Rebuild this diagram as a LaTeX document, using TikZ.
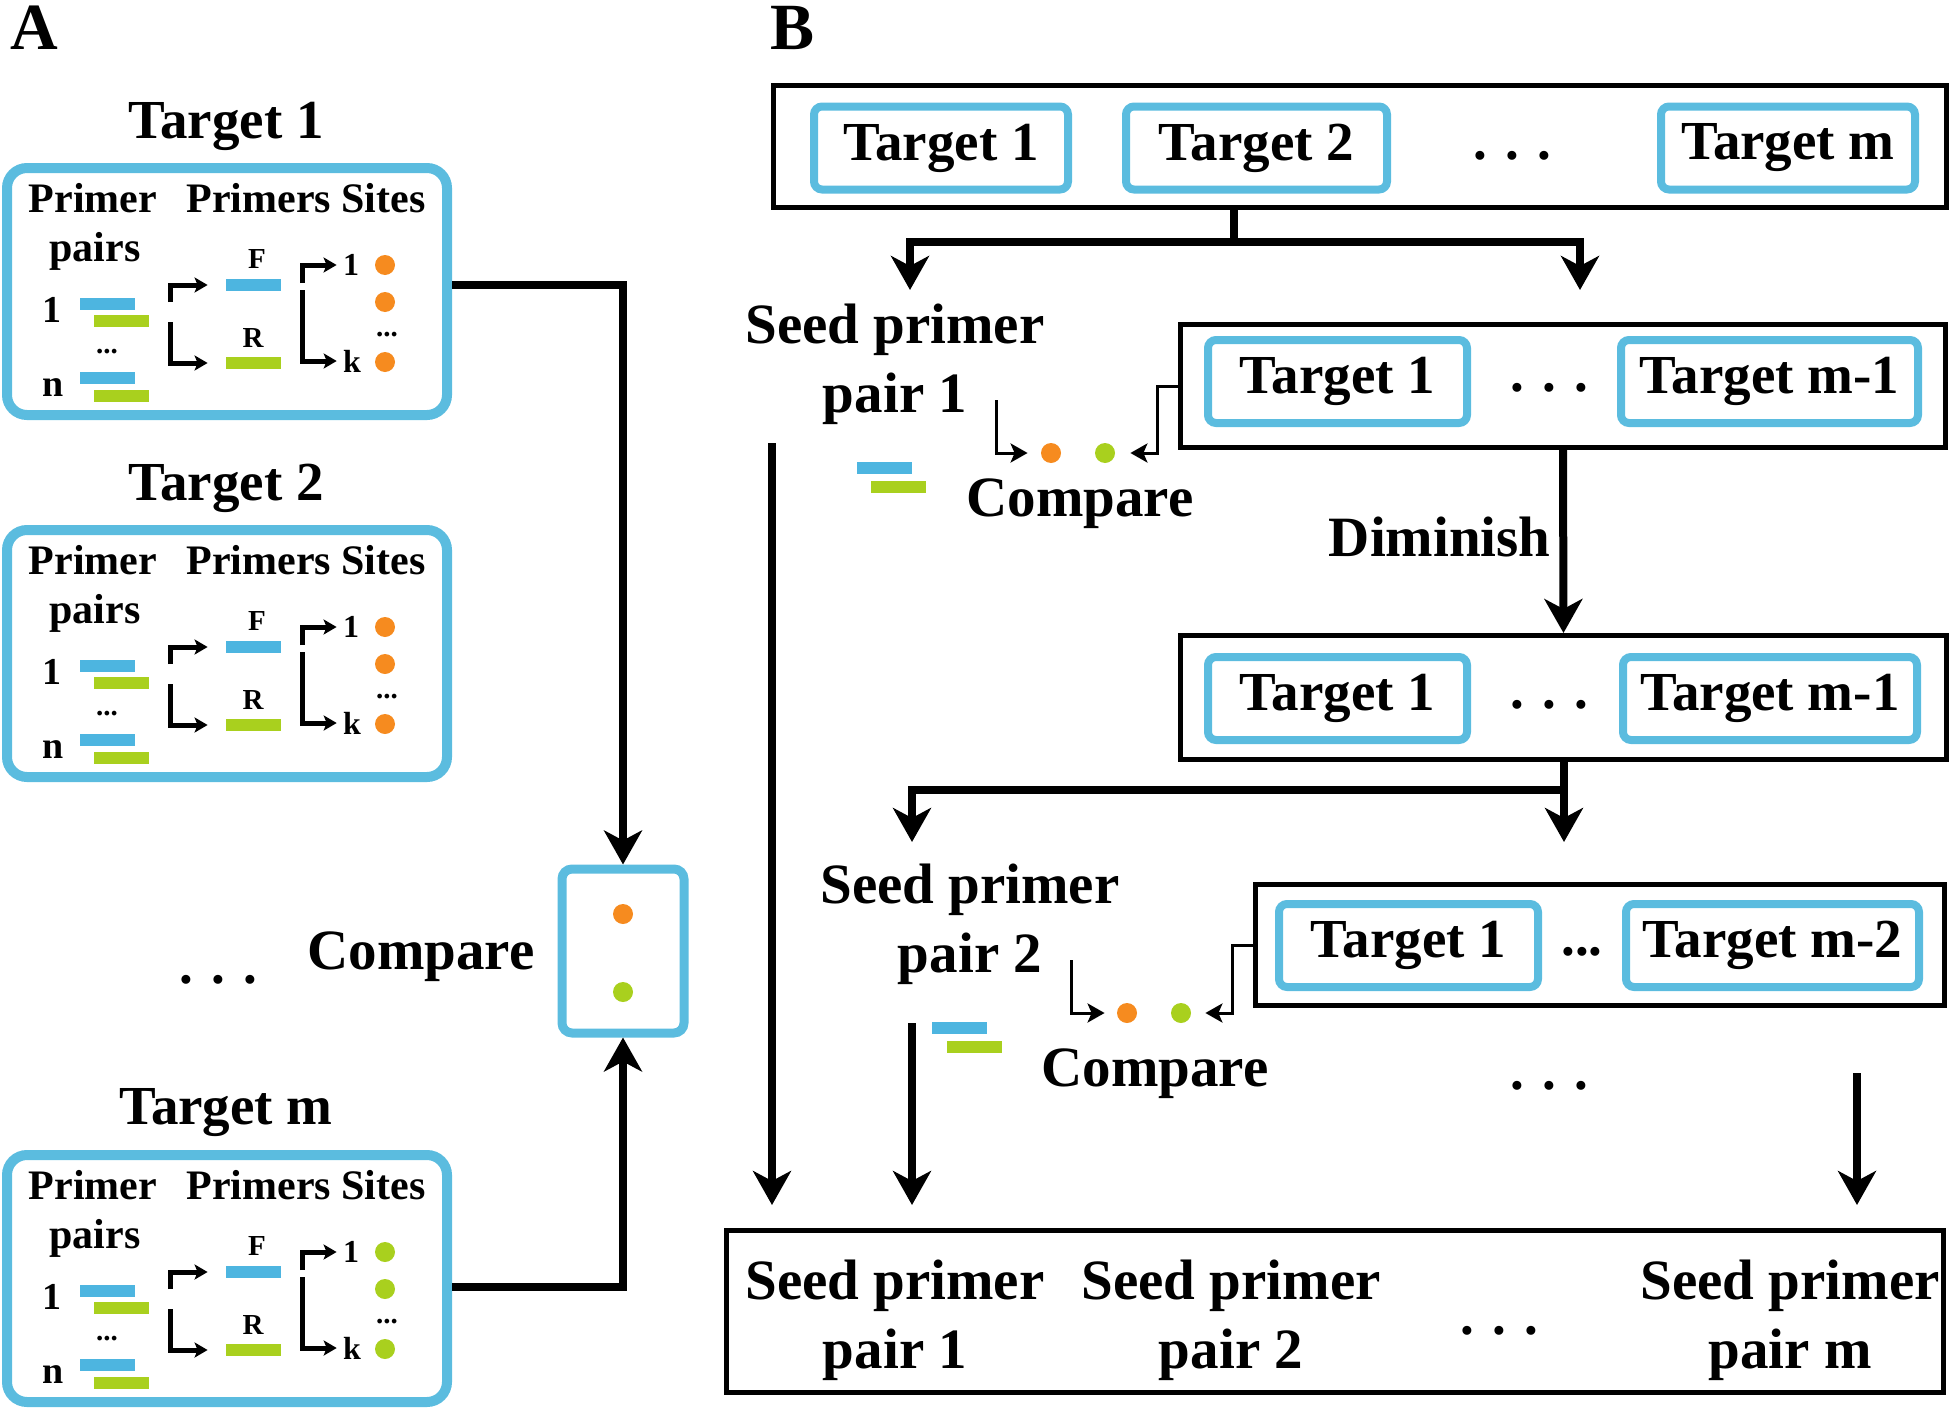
\documentclass[tikz,border=0pt]{standalone}
\usepackage{fontspec}
\setmainfont{Liberation Serif}
\usepackage{xcolor}
\usepackage{tikz}
\usetikzlibrary{positioning,arrows.meta}

\definecolor{tgtblue}{HTML}{5BBCDF}
\definecolor{barblue}{HTML}{4DB5E0}
\definecolor{bargreen}{HTML}{A9D01E}
\definecolor{dotorange}{HTML}{F68B1F}
\definecolor{dotgreen}{HTML}{A9D01E}

\newcommand{\flabel}{\bfseries\fontsize{33}{38}\selectfont}
\newcommand{\fbig}{\bfseries\fontsize{28.5}{34.5}\selectfont}
\newcommand{\ftgt}{\bfseries\fontsize{27.5}{33}\selectfont}
\newcommand{\fhead}{\bfseries\fontsize{21}{25}\selectfont}
\newcommand{\fidx}{\bfseries\fontsize{19}{22}\selectfont}
\newcommand{\fsite}{\bfseries\fontsize{16}{19}\selectfont}
\newcommand{\fsmall}{\bfseries\fontsize{14.5}{17}\selectfont}

\tikzset{
    targetA/.style={draw=tgtblue, line width=5pt, rounded corners=10pt,
        minimum width=220pt, minimum height=123.5pt, inner sep=0pt},
    tgtbox/.style={draw=tgtblue, line width=4pt, rounded corners=4pt,
        minimum height=41.5pt, inner sep=0pt, font=\ftgt},
    outerbox/.style={draw, line width=2.5pt, inner sep=0pt},
    bar/.style={rectangle, inner sep=0pt, minimum width=27.5pt, minimum height=6pt},
    dot/.style={circle, inner sep=0pt, minimum size=10pt},
    conn/.style={line width=4pt, -{Stealth[length=17pt,width=19pt,inset=5pt]}},
    plainline/.style={line width=4pt},
    brk/.style={line width=2.5pt, -{Stealth[length=6.5pt,width=7.5pt,inset=1.5pt]}},
    cmparrow/.style={line width=1.5pt, -{Stealth[length=8.5pt,width=9.5pt,inset=2pt]}},
}

\begin{document}
\begin{tikzpicture}[x=0.5pt, y=-0.5pt]

    \useasboundingbox (0,0) rectangle (1951,1408);

    \node[font=\flabel] (labA) at (34,28) {A};
    \node[font=\flabel] (labB) at (793,28) {B};

    \foreach \i/\dy/\dc in {1/0/dotorange, 2/362/dotorange, m/987/dotgreen} {
        \begin{scope}[shift={(0,\dy)}]
            \node[font=\ftgt] (title\i) at (226,126) {Target \i};
            \node[targetA] (box\i) at (227,291.5) {};
            \node[font=\fhead, anchor=base] (hp\i) at (93,212) {Primer};
            \node[font=\fhead, anchor=base] (hs\i) at (306,212) {Primers Sites};
            \node[font=\fhead, anchor=base] (hq\i) at (95,261) {pairs};
            \node[font=\fidx, anchor=base] (one\i) at (52,322) {1};
            \node[font=\fidx, anchor=base] (en\i) at (53,396) {n};
            \node[font=\fsmall, anchor=base] (vd\i) at (107,353) {...};
            \node[bar, fill=barblue] (pb\i) at (107.5,303.5) {};
            \node[bar, fill=bargreen] (pg\i) at (121,321) {};
            \node[bar, fill=barblue] (nb\i) at (107.5,377.5) {};
            \node[bar, fill=bargreen] (ng\i) at (121,395.5) {};
            \node[bar, fill=barblue] (fb\i) at (253.5,285) {};
            \node[bar, fill=bargreen] (rb\i) at (253.5,363) {};
            \node[font=\fsmall, anchor=base] (fl\i) at (257,268) {F};
            \node[font=\fsmall, anchor=base] (rl\i) at (253,347) {R};
            \draw[brk] (170,302) |- ([xshift=-9pt]fb\i.west);
            \draw[brk] (170,322) |- ([xshift=-9pt]rb\i.west);
            \node[font=\fsite, inner sep=1pt] (s1\i) at (351,265) {1};
            \node[font=\fsite, inner sep=1pt] (sk\i) at (352,361) {k};
            \draw[brk] (302,283) |- ([xshift=-2pt]s1\i.west);
            \draw[brk] (302,290) |- ([xshift=-2pt]sk\i.west);
            \node[dot, fill=\dc] (da\i) at (385,265) {};
            \node[dot, fill=\dc] (db\i) at (385,302) {};
            \node[dot, fill=\dc] (dk\i) at (385,362) {};
            \node[font=\fsmall, anchor=base] (sd\i) at (387,336) {...};
        \end{scope}
    }

    \node[draw=tgtblue,
        line width=4.5pt,
        rounded corners=5pt,
        minimum width=61pt,
        minimum height=82pt]
        (cmpA) at (623,951) {};
    \node[dot, fill=dotorange] (cmpAo) at (623,914) {};
    \node[dot, fill=dotgreen] (cmpAg) at (623,992) {};
    \node[font=\fbig] (cmpAlbl) at (421,957) {Compare};
    \node[font=\ftgt] (adots) at (218,980) {. . .};

    \draw[conn] ([yshift=3.5pt]box1.east) -| (cmpA.north);
    \draw[conn] ([yshift=-4.25pt]boxm.east) -| (cmpA.south);

    \node[outerbox,
        minimum width=586.5pt,
        minimum height=61pt]
        (tops) at (1360,146.5) {};
    \node[tgtbox, minimum width=127pt] (t1) at (941,148) {Target 1};
    \node[tgtbox, minimum width=130.5pt] (t2) at (1256.5,148) {Target 2};
    \node[tgtbox, minimum width=127pt] (tm) at (1788,148) {Target m};
    \node[font=\ftgt] (tdots) at (1512,156) {. . .};

    \coordinate (split1) at (1234,242);
    \coordinate (s1l) at (910,290);
    \coordinate (s1r) at (1580,290);
    \draw[plainline] (split1 |- tops.south) -- (split1);
    \draw[conn] (split1) -| (s1l);
    \draw[conn] (split1) -| (s1r);

    \node[font=\fbig, align=center] (seed1) at (895,364.5) {Seed primer\\pair 1};

    \node[outerbox,
        minimum width=382.5pt,
        minimum height=61.5pt]
        (dim1) at (1563,386) {};
    \node[tgtbox, minimum width=129.5pt] (d1t1) at (1337.5,381.5) {Target 1};
    \node[tgtbox, minimum width=148.5pt] (d1tm) at (1769.5,381.5) {Target m-1};
    \node[font=\ftgt] (d1dots) at (1549,388) {. . .};

    \node[dot, fill=dotorange] (c1o) at (1051,453) {};
    \node[dot, fill=dotgreen] (c1g) at (1105,453) {};
    \draw[cmparrow] (996,400) |- ([xshift=-6.5pt]c1o.west);
    \draw[cmparrow] (dim1.west) -- ++(-21,0) |- ([xshift=7.5pt]c1g.east);
    \node[bar, fill=barblue] (c1b) at (884.5,468) {};
    \node[bar, fill=bargreen] (c1gr) at (898.5,487) {};
    \node[font=\fbig] (cmp1) at (1080,504) {Compare};

    \node[outerbox,
        minimum width=383pt,
        minimum height=62pt]
        (dim2) at (1563.5,697.5) {};
    \node[tgtbox, minimum width=129.5pt] (d2t1) at (1337.5,698.5) {Target 1};
    \node[tgtbox, minimum width=147pt] (d2tm) at (1770,698.5) {Target m-1};
    \node[font=\ftgt] (d2dots) at (1549,705) {. . .};

    \draw[conn] (dim1.south) -- (dim2.north)
        node[midway, left=1pt, yshift=2.5pt, font=\fbig] (dimlbl) {Diminish};

    \coordinate (split2) at (1564,790);
    \coordinate (s2l) at (912,842);
    \coordinate (s2r) at (1564,842);
    \draw[conn] (dim2.south -| s2r) -- (s2r);
    \draw[conn] (split2) -| (s2l);

    \node[font=\fbig, align=center] (seed2) at (970,924.5) {Seed primer\\pair 2};

    \node[outerbox,
        minimum width=344.5pt,
        minimum height=60.5pt]
        (dim3) at (1600,945) {};
    \node[tgtbox, minimum width=129.5pt] (d3t1) at (1408.5,945.5) {Target 1};
    \node[tgtbox, minimum width=146.5pt] (d3tm) at (1772.5,945.5) {Target m-2};
    \node[font=\ftgt] (d3dots) at (1582,952) {...};

    \node[dot, fill=dotorange] (c2o) at (1127,1013) {};
    \node[dot, fill=dotgreen] (c2g) at (1181,1013) {};
    \draw[cmparrow] (1071,960) |- ([xshift=-6pt]c2o.west);
    \draw[cmparrow] (dim3.west) -- ++(-21,0) |- ([xshift=7pt]c2g.east);
    \node[bar, fill=barblue] (c2b) at (959.5,1028) {};
    \node[bar, fill=bargreen] (c2gr) at (974,1047) {};
    \node[font=\fbig] (cmp2) at (1155,1074) {Compare};

    \node[font=\ftgt] (mdots) at (1549,1086) {. . .};

    \coordinate (v1) at (772,443);
    \coordinate (v1e) at (772,1205);
    \coordinate (v2) at (912,1023);
    \coordinate (v2e) at (912,1205);
    \coordinate (v3) at (1857,1073);
    \coordinate (v3e) at (1857,1205);
    \draw[conn] (v1) -- (v1e);
    \draw[conn] (v2) -- (v2e);
    \draw[conn] (v3) -- (v3e);

    \node[outerbox,
        minimum width=608.5pt,
        minimum height=81pt]
        (seeds) at (1335,1311.5) {};
    \node[font=\fbig, align=center] (sp1) at (895,1320) {Seed primer\\pair 1};
    \node[font=\fbig, align=center] (sp2) at (1231,1320) {Seed primer\\pair 2};
    \node[font=\fbig, align=center] (spm) at (1790,1320) {Seed primer\\pair m};
    \node[font=\ftgt] (spdots) at (1499,1331) {. . .};

\end{tikzpicture}
\end{document}
